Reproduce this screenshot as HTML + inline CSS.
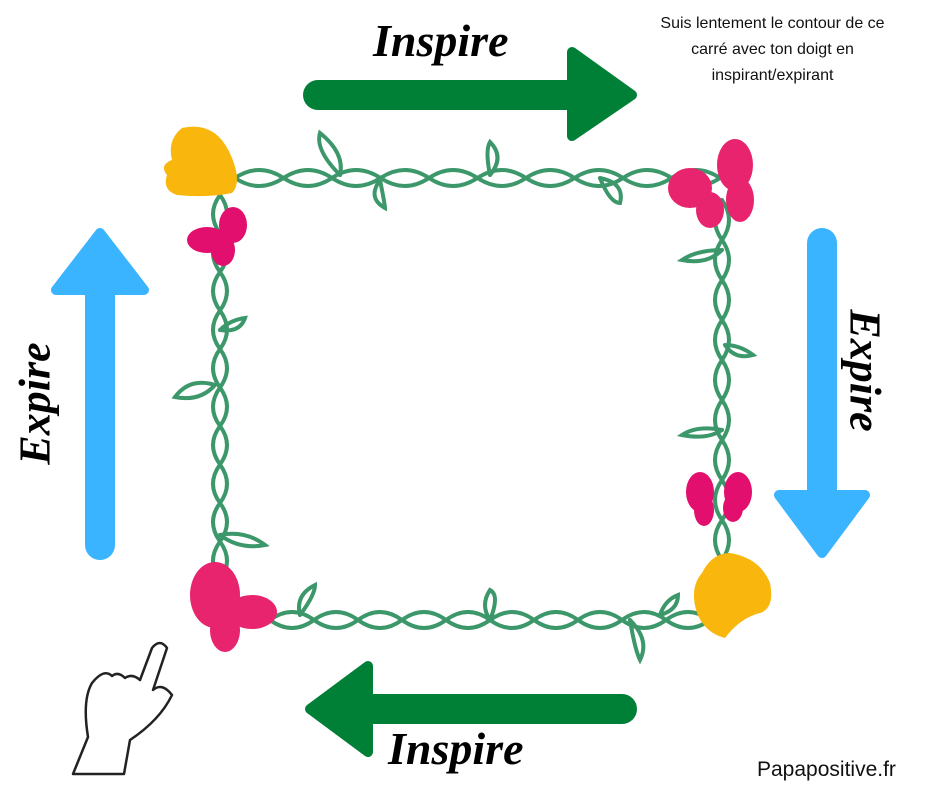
<!DOCTYPE html>
<html><head><meta charset="utf-8"><style>
html,body{margin:0;padding:0;background:#fff}
#c{position:relative;width:940px;height:788px;overflow:hidden;background:#fff}
.t{position:absolute;font-family:"Liberation Serif",serif;font-style:italic;font-weight:bold;color:#000;white-space:nowrap}
</style></head><body><div id="c">
<svg width="940" height="788" style="position:absolute;left:0;top:0">
<g fill="#007f37" stroke="#007f37" stroke-linejoin="round" stroke-linecap="round">
<line x1="318" y1="95" x2="585" y2="95" stroke-width="30"/>
<polygon points="572,52 632,95 572,136" stroke-width="10"/>
<line x1="360" y1="709" x2="622" y2="709" stroke-width="30"/>
<polygon points="368,666 310,709 368,752" stroke-width="10"/>
</g>
<g fill="#3ab4ff" stroke="#3ab4ff" stroke-linejoin="round" stroke-linecap="round">
<line x1="100" y1="280" x2="100" y2="545" stroke-width="30"/>
<polygon points="100,233 56,290 144,290" stroke-width="10"/>
<line x1="822" y1="243" x2="822" y2="500" stroke-width="30"/>
<polygon points="779,495 865,495 822,553" stroke-width="10"/>
</g>
<g fill="none" stroke="#3c976a" stroke-width="4" stroke-linecap="round">
<path d="M235 178 q24 -16 48.5 0 t48.5 0 t48.5 0 t48.5 0 t48.5 0 t48.5 0 t48.5 0 t48.5 0 t48.5 0 t48.5 0"/>
<path d="M235 178 q24 16 48.5 0 t48.5 0 t48.5 0 t48.5 0 t48.5 0 t48.5 0 t48.5 0 t48.5 0 t48.5 0 t48.5 0"/>
<path d="M270 620 q22 -16 44 0 t44 0 t44 0 t44 0 t44 0 t44 0 t44 0 t44 0 t44 0 t44 0"/>
<path d="M270 620 q22 16 44 0 t44 0 t44 0 t44 0 t44 0 t44 0 t44 0 t44 0 t44 0 t44 0"/>
<path d="M220 195 q-14 19 0 38.5 t0 38.5 t0 38.5 t0 38.5 t0 38.5 t0 38.5 t0 38.5 t0 38.5 t0 38.5 t0 38.5"/>
<path d="M220 195 q14 19 0 38.5 t0 38.5 t0 38.5 t0 38.5 t0 38.5 t0 38.5 t0 38.5 t0 38.5 t0 38.5 t0 38.5"/>
<path d="M722 200 q-14 20 0 40 t0 40 t0 40 t0 40 t0 40 t0 40 t0 40 t0 40 t0 40"/>
<path d="M722 200 q14 20 0 40 t0 40 t0 40 t0 40 t0 40 t0 40 t0 40 t0 40 t0 40"/>
<path d="M340 175 q-25 -25 -20 -42 q25 20 20 42"/>
<path d="M380 180 q5 25 5 28 q-18 -10 -5 -28"/>
<path d="M490 175 q-5 -25 0 -33 q15 15 0 33"/>
<path d="M600 178 q10 25 20 25 q5 -20 -20 -25"/>
<path d="M220 330 q10 -10 25 -12 q-5 15 -25 12"/>
<path d="M215 385 q-25 -8 -40 12 q25 5 40 -12"/>
<path d="M220 535 q25 -5 45 10 q-25 5 -45 -10"/>
<path d="M722 250 q-25 0 -40 10 q25 5 40 -10"/>
<path d="M725 345 q15 0 28 10 q-18 5 -28 -10"/>
<path d="M722 430 q-25 -5 -40 5 q25 5 40 -5"/>
<path d="M300 615 q15 -20 15 -30 q-20 10 -15 30"/>
<path d="M490 620 q10 -25 0 -30 q-10 15 0 30"/>
<path d="M630 620 q5 30 10 40 q10 -20 -10 -40"/>
<path d="M660 615 q5 -15 18 -20 q0 15 -18 20"/>
</g>
<path d="M182 128 q35 -8 50 30 q10 25 0 35 q-25 5 -55 2 q-15 -5 -10 -20 q-8 -10 5 -15 q-5 -20 10 -32z" fill="#f9b60d"/>
<g fill="#e20f6e">
<ellipse cx="233" cy="225" rx="14" ry="18"/><ellipse cx="207" cy="240" rx="20" ry="13"/><ellipse cx="223" cy="250" rx="12" ry="16"/>
<ellipse cx="700" cy="492" rx="14" ry="20"/><ellipse cx="738" cy="492" rx="14" ry="20"/><ellipse cx="704" cy="510" rx="10" ry="16"/><ellipse cx="733" cy="508" rx="10" ry="14"/>
</g>
<g fill="#e8246f">
<ellipse cx="690" cy="188" rx="22" ry="20"/><ellipse cx="735" cy="165" rx="18" ry="26"/><ellipse cx="710" cy="210" rx="14" ry="18"/><ellipse cx="740" cy="200" rx="14" ry="22"/>
<ellipse cx="215" cy="595" rx="25" ry="33"/><ellipse cx="252" cy="612" rx="25" ry="17"/><ellipse cx="225" cy="630" rx="15" ry="22"/>
</g>
<path d="M730 553 q30 5 40 30 q5 25 -10 30 q-20 5 -35 25 q-20 -5 -28 -25 q-8 -25 5 -40 q10 -20 28 -20z" fill="#f9b60d"/>
<path d="M73 774 L88 737 Q82 700 92 683 Q104 668 112 676 Q118 671 125 678 Q132 673 140 680 L152 648 Q160 638 167 648 L153 690 Q162 682 172 695 Q160 720 130 740 L124 774 Z" fill="none" stroke="#222" stroke-width="2.5" stroke-linejoin="round"/>
</svg>
<div class="t" style="left:373px;top:14px;font-size:46px">Inspire</div>
<div class="t" style="left:388px;top:722px;font-size:46px">Inspire</div>
<div class="t" style="left:-30px;top:378px;font-size:44px;transform:rotate(-90deg);width:130px;text-align:center">Expire</div>
<div class="t" style="left:800px;top:345px;font-size:44px;transform:rotate(90deg);width:130px;text-align:center">Expire</div>
<div style="position:absolute;left:605px;top:11px;width:335px;text-align:center;font-family:'Liberation Sans',sans-serif;font-size:16px;line-height:26px;color:#111">Suis lentement le contour de ce<br>carré avec ton doigt en<br>inspirant/expirant</div>
<div style="position:absolute;left:757px;top:758px;font-family:'Liberation Sans',sans-serif;font-size:21px;color:#111">Papapositive.fr</div>
</div></body></html>
